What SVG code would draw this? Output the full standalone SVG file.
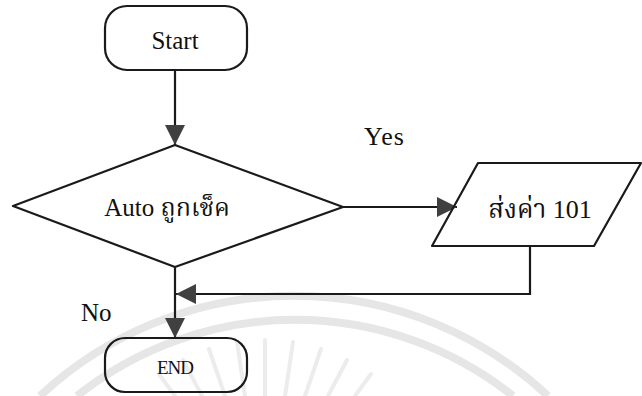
<svg xmlns="http://www.w3.org/2000/svg" width="642" height="396" viewBox="0 0 642 396">
  <defs>
    <style>
      .shape { fill: none; stroke: #1a1a1a; stroke-width: 2.2; stroke-linejoin: round; }
      .line { fill: none; stroke: #1a1a1a; stroke-width: 2.2; }
      .lbl { font-family: "Liberation Serif", "Times New Roman", serif; fill: #111; }
      .thai { font-family: "Liberation Serif", "Noto Serif Thai", "Noto Sans Thai", "Garuda", "Loma", serif; fill: #111; }
      .wm { fill: none; stroke: #e6e6e6; stroke-width: 8; }
      .ray { fill: none; stroke: #ececec; stroke-width: 4; stroke-linecap: round; }
    </style>
    <marker id="arrow" viewBox="0 0 10 10" refX="10" refY="5" markerWidth="20" markerHeight="20" markerUnits="userSpaceOnUse" orient="auto">
      <path d="M0,0 L10,5 L0,10 Z" fill="#404040"/>
    </marker>
  </defs>

  <rect width="642" height="396" fill="#ffffff"/>

  <!-- faint background seal -->
  <g id="seal">
    <path class="wm" d="M 40 396 A 372 372 0 0 1 548 396"/>
    <path class="wm" d="M 77 396 A 350 350 0 0 1 513 396"/>
    <g class="ray">
      <line x1="175" y1="396" x2="159" y2="374"/>
      <line x1="202" y1="396" x2="183" y2="360"/>
      <line x1="225" y1="396" x2="209" y2="349"/>
      <line x1="245" y1="396" x2="237" y2="342"/>
      <line x1="265" y1="396" x2="265" y2="340"/>
      <line x1="285" y1="396" x2="293" y2="342"/>
      <line x1="305" y1="396" x2="321" y2="349"/>
      <line x1="328" y1="396" x2="347" y2="360"/>
      <line x1="355" y1="396" x2="371" y2="374"/>
    </g>
  </g>

  <!-- connectors -->
  <g id="connectors">
    <line class="line" x1="175" y1="70" x2="175" y2="145" marker-end="url(#arrow)"/>
    <line class="line" x1="343" y1="207" x2="457" y2="207" marker-end="url(#arrow)"/>
    <polyline class="line" points="530,246 530,294 176,294" marker-end="url(#arrow)"/>
    <line class="line" x1="175" y1="267" x2="175" y2="338" marker-end="url(#arrow)"/>
  </g>

  <!-- start terminator -->
  <g id="start">
    <rect class="shape" x="105" y="6" width="142" height="64" rx="22" ry="22"/>
    <text class="lbl" x="175" y="49" font-size="25" text-anchor="middle">Start</text>
  </g>

  <!-- decision -->
  <g id="decision">
    <polygon class="shape" points="13,206 175,145 343,207 175,267"/>
    <text class="thai" x="167" y="216" font-size="25" text-anchor="middle">Auto ถูกเช็ค</text>
  </g>

  <!-- output -->
  <g id="output">
    <polygon class="shape" points="478,163 641,163 594,246 432,246"/>
    <text class="thai" x="540" y="218" font-size="26" text-anchor="middle">ส่งค่า 101</text>
  </g>

  <!-- end terminator -->
  <g id="end">
    <rect class="shape" x="105" y="338" width="142" height="54" rx="20" ry="20"/>
    <text class="lbl" x="175" y="374" font-size="19" text-anchor="middle" letter-spacing="-1">END</text>
  </g>

  <!-- branch labels -->
  <text class="lbl" x="364" y="145" font-size="26" letter-spacing="1">Yes</text>
  <text class="lbl" x="81" y="321" font-size="25">No</text>
</svg>
